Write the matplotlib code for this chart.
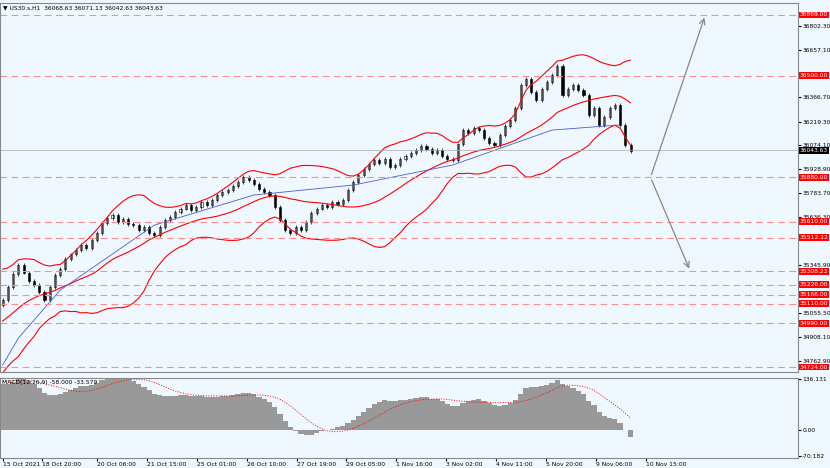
import matplotlib
matplotlib.use("Agg")
import matplotlib.pyplot as plt
import numpy as np
import pandas as pd

pre = [34600,34620,34580,34650,34700,34680,34720,34760,34800,34780,34850,34900,34880,34950,35000,
       35050,35020,35100,35150,35130,35200,35180,35220,35160,35100]
closes = [35132,35210,35290,35345,35300,35250,35224,35180,35132,35210,
          35285,35320,35380,35410,35437,35470,35450,35498,35540,35600,
          35630,35650,35610,35625,35595,35589,35560,35575,35540,35528,
          35580,35620,35640,35670,35690,35711,35680,35700,35730,35711,
          35740,35770,35790,35803,35830,35850,35880,35864,35840,35810,
          35790,35772,35700,35620,35559,35540,35575,35559,35610,35660,
          35690,35711,35700,35730,35720,35742,35800,35850,35894,35930,
          35960,35985,35970,35990,35940,35955,35990,36010,36030,36046,
          36070,36050,36030,36046,36010,35990,35985,36080,36168,36150,
          36180,36168,36120,36090,36077,36140,36190,36229,36300,36442,
          36480,36400,36351,36420,36460,36503,36560,36381,36420,36440,
          36412,36380,36260,36300,36199,36250,36300,36320,36200,36077,
          36043]
ma_idx = [0, 3, 11, 29, 48, 67, 86, 105, 118]
ma_val = [34736, 34900, 35193, 35589, 35772, 35833, 35955, 36168, 36199]
levels = [36869.00, 36500.00, 35880.00, 35610.00, 35512.12, 35308.23, 35226.00, 35166.00, 35110.00, 34990.00, 34724.00]
axis_ticks = [36802.30, 36657.10, 36366.70, 36219.30, 36074.10, 35928.90, 35783.70, 35636.30, 35345.90, 35055.50, 34908.10, 34762.90]
date_labels = ["15 Oct 2021","18 Oct 20:00","20 Oct 06:00","21 Oct 15:00","25 Oct 01:00","26 Oct 10:00",
               "27 Oct 19:00","29 Oct 05:00","1 Nov 16:00","3 Nov 02:00","4 Nov 11:00","5 Nov 20:00",
               "9 Nov 06:00","10 Nov 15:00"]
last_price = 36043.63

allc = pd.Series(pre + closes, dtype=float)
P = len(pre)
opens = allc.shift(1).fillna(allc.iloc[0])
mid = allc.rolling(20).mean()
sd = allc.rolling(20).std(ddof=0)
up, lo = mid + 2*sd, mid - 2*sd
ema12 = allc.ewm(span=12, adjust=False).mean()
ema26 = allc.ewm(span=26, adjust=False).mean()
macd = ema12 - ema26
sig = macd.rolling(9).mean()

bg = "#F0F8FF"
fs = 4.3
fig = plt.figure(figsize=(8.3, 4.68), dpi=100)
fig.patch.set_facecolor(bg)
ax = fig.add_axes([0.0, 1-372/468, 798/830, 369/468])
ax2 = fig.add_axes([0.0, 1-458/468, 798/830, 80/468])
for a in (ax, ax2):
    a.set_facecolor(bg)
    a.yaxis.tick_right()
    a.tick_params(axis='y', labelsize=fs, length=2, pad=1)
    for s in a.spines.values():
        s.set_color("#888888")

n = len(closes)
x = np.arange(n)
xmax = 798/5.25
ax.set_xlim(-0.5, xmax)
ax2.set_xlim(-0.5, xmax)
ax.set_ylim(34694, 36942)

for i in range(n):
    o, c = opens.iloc[P+i], allc.iloc[P+i]
    h, l = max(o, c) + 12, min(o, c) - 12
    ax.vlines(i, l, h, color="black", lw=0.5)
    ax.add_patch(plt.Rectangle((i-0.2, min(o, c)), 0.4, max(abs(c-o), 2),
                               facecolor="white" if c >= o else "black", edgecolor="black", lw=0.4))

ax.plot(x, up.iloc[P:], color="red", lw=0.8)
ax.plot(x, mid.iloc[P:], color="red", lw=0.8)
ax.plot(x, lo.iloc[P:], color="red", lw=0.8)
ax.plot(ma_idx, ma_val, color="#4a5ad8", lw=0.6)

for lv in levels:
    ax.axhline(lv, color="#ff8c8c", ls=(0, (6, 4)), lw=0.8)
    ax.text(1.002, lv, f"{lv:.2f}", transform=ax.get_yaxis_transform(), fontsize=fs, color="white",
            va="center", ha="left", bbox=dict(boxstyle="square,pad=0.15", fc="red", ec="none"))
ax.axhline(last_price, color="#aaaaaa", lw=0.5)
ax.text(1.002, last_price, f"{last_price:.2f}", transform=ax.get_yaxis_transform(), fontsize=fs,
        color="white", va="center", ha="left", bbox=dict(boxstyle="square,pad=0.15", fc="black", ec="none"))
ax.set_yticks(axis_ticks)
ax.set_yticklabels([f"{t:.2f}" for t in axis_ticks], fontsize=fs)
ax.set_xticks([])

x0 = 650/5.25
ax.annotate("", xy=(705/5.25, 36869), xytext=(x0, 35880),
            arrowprops=dict(arrowstyle="->", color="#888888", lw=0.9))
ax.annotate("", xy=(690/5.25, 35308), xytext=(x0, 35880),
            arrowprops=dict(arrowstyle="->", color="#888888", lw=0.9))

ax.text(0.004, 0.995, "▼ US30.s,H1  36068.63 36071.13 36042.63 36043.63", transform=ax.transAxes,
        fontsize=fs, va="top", ha="left")

ax2.bar(x, macd.iloc[P:], width=1.0, color="#999999")
ax2.plot(x, sig.iloc[P:], color="red", ls=":", lw=0.7)
ax2.set_ylim(-75, 140)
ax2.set_yticks([136.131, 0.0, -70.182])
ax2.set_yticklabels(["136.131", "0.00", "-70.182"], fontsize=fs)
ax2.text(0.003, 0.97, "MACD(12,26,9) -58.000 -33.579", transform=ax2.transAxes, fontsize=fs, va="top")
tick_px = [0, 40, 95, 145, 195, 245, 295, 345, 395, 445, 495, 545, 595, 645]
ax2.set_xticks([p/5.25 for p in tick_px])
ax2.set_xticklabels(date_labels, fontsize=fs, ha="left")
ax2.tick_params(axis='x', length=2, pad=1)

fig.savefig("out.png", dpi=100, facecolor=bg)
